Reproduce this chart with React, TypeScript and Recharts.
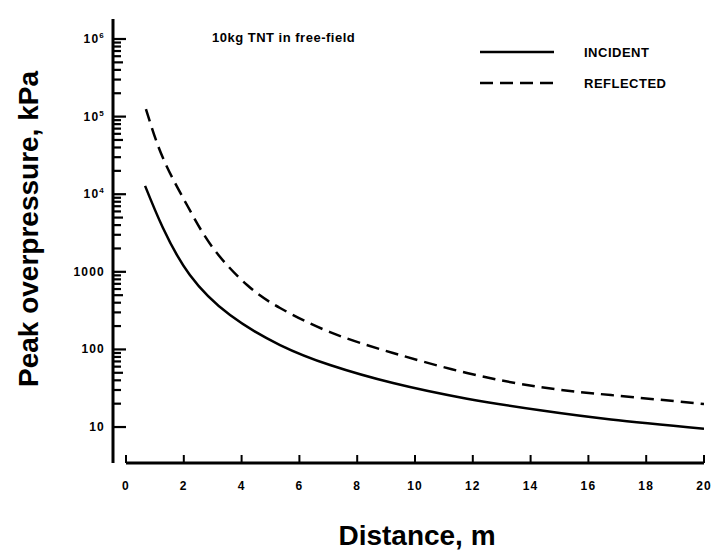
import React from "react";
import { LineChart, Line, XAxis, YAxis, Legend, ReferenceLine } from "recharts";

const FONT = '"Liberation Sans", Arial, Helvetica, sans-serif';

// curves: distance (m) -> peak overpressure (kPa)
const incidentDistance = [0.66, 1.28, 2.21, 3.6, 5.33, 7.06, 9.24, 11.8, 14.33, 16.78, 20];
const incidentPressure = [12800, 3660, 910, 277, 114, 63, 36.9, 23.2, 16.4, 12.5, 9.5];

const reflectedDistance = [0.69, 1.28, 2.11, 3.01, 4.19, 5.33, 7.06, 9.24, 11.8, 14.33, 16.78, 20];
const reflectedPressure = [125000, 29200, 7260, 2030, 676, 342, 167, 90, 49.7, 32.7, 25.8, 19.8];

const distanceTicks = [0, 2, 4, 6, 8, 10, 12, 14, 16, 18, 20];
const pressureMajorTicks = [10, 100, 1000, 1e4, 1e5, 1e6];
const pressureMajorLabels = [["10"], ["100"], ["1000"], ["10", "4"], ["10", "5"], ["10", "6"]];
const pressureMinorSteps = [2, 3, 4, 5, 6, 7, 8, 9];

const Y_MIN = 3.44;
const Y_MAX = 1.81e6;
const Y_AXIS_X = 113;

const incidentData = incidentDistance.map((x, i) => ({ x, p: incidentPressure[i] }));
const reflectedData = reflectedDistance.map((x, i) => ({ x, p: reflectedPressure[i] }));

const pressureTicks: number[] = [];
pressureMajorTicks.forEach((major, i) => {
  pressureTicks.push(major);
  if (i < pressureMajorTicks.length - 1) {
    pressureMinorSteps.forEach((m) => pressureTicks.push(m * major));
  }
});

const YTick = (props: any) => {
  const { y, payload } = props;
  const v = payload.value as number;
  const idx = pressureMajorTicks.indexOf(v);
  const mant = Math.round(v / Math.pow(10, Math.floor(Math.log10(v) + 1e-9)));
  const len = idx >= 0 ? 13 : mant === 5 ? 10 : 8;
  const label = idx >= 0 ? pressureMajorLabels[idx] : null;
  return (
    <g>
      <rect x={Y_AXIS_X} y={y - 1.1} width={len} height={2.2} fill="#000" stroke="none" />
      {label && (
        <text
          x={Y_AXIS_X - 8}
          y={y + 4}
          textAnchor="end"
          fontFamily={FONT}
          fontWeight="bold"
          fontSize={12}
          letterSpacing={1.2}
          fill="#000"
        >
          {label[0]}
          {label[1] && (
            <tspan dy={-5} fontSize={8}>
              {label[1]}
            </tspan>
          )}
        </text>
      )}
    </g>
  );
};

const XTick = (props: any) => {
  const { x, y, payload } = props;
  return (
    <g>
      <line x1={x} y1={y} x2={x} y2={y - 8} stroke="#000" strokeWidth={2} />
      <text
        x={x}
        y={y + 27}
        textAnchor="middle"
        fontFamily={FONT}
        fontWeight="bold"
        fontSize={12}
        letterSpacing={1.2}
        fill="#000"
      >
        {payload.value}
      </text>
    </g>
  );
};

const LegendBox = () => (
  <svg width={230} height={60}>
    <line x1={2} y1={12} x2={76} y2={12} stroke="#000" strokeWidth={2.5} />
    <text x={106} y={16.5} fontFamily={FONT} fontWeight="bold" fontSize={13} letterSpacing={0.5}>
      INCIDENT
    </text>
    <line x1={2} y1={43} x2={76} y2={43} stroke="#000" strokeWidth={2.5} strokeDasharray="13 7" />
    <text x={106} y={47.5} fontFamily={FONT} fontWeight="bold" fontSize={13} letterSpacing={0.5}>
      REFLECTED
    </text>
  </svg>
);

export default function App() {
  return (
    <div style={{ position: "absolute", left: 0, top: 0, width: 711, height: 553, background: "#fff" }}>
      <div
        style={{
          position: "absolute",
          left: 212,
          top: 30,
          fontFamily: FONT,
          fontWeight: "bold",
          fontSize: 13,
          letterSpacing: 0.5,
          lineHeight: "16px",
          zIndex: 2,
        }}
      >
        10kg TNT in free-field
      </div>
      <LineChart width={711} height={553} margin={{ top: 19, right: 7, bottom: 0, left: 0 }}>
        <XAxis
          dataKey="x"
          type="number"
          domain={[-0.45, 20]}
          ticks={distanceTicks}
          interval={0}
          allowDataOverflow
          axisLine={false}
          tickLine={false}
          tickSize={0}
          tickMargin={0}
          height={90}
          tick={<XTick />}
          label={{
            content: () => (
              <text
                x={417}
                y={545}
                textAnchor="middle"
                fontFamily={FONT}
                fontWeight="bold"
                fontSize={28}
                fill="#000"
              >
                Distance, m
              </text>
            ),
          }}
        />
        <YAxis
          type="number"
          scale="log"
          domain={[Y_MIN, Y_MAX]}
          allowDataOverflow
          ticks={pressureTicks}
          interval={0}
          width={Y_AXIS_X}
          axisLine={{ stroke: "#000", strokeWidth: 3 }}
          tickLine={false}
          tickSize={0}
          tickMargin={0}
          tick={<YTick />}
          label={{
            content: () => (
              <text
                x={38}
                y={229}
                transform="rotate(-90, 38, 229)"
                textAnchor="middle"
                fontFamily={FONT}
                fontWeight="bold"
                fontSize={28}
                fill="#000"
              >
                Peak overpressure, kPa
              </text>
            ),
          }}
        />
        <ReferenceLine
          segment={[
            { x: 0, y: Y_MIN },
            { x: 20, y: Y_MIN },
          ]}
          stroke="#000"
          strokeWidth={3}
          ifOverflow="visible"
        />
        <Line
          data={incidentData}
          dataKey="p"
          name="INCIDENT"
          type="natural"
          stroke="#000"
          strokeWidth={2.5}
          dot={false}
          isAnimationActive={false}
        />
        <Line
          data={reflectedData}
          dataKey="p"
          name="REFLECTED"
          type="natural"
          stroke="#000"
          strokeWidth={2.5}
          strokeDasharray="13 7"
          dot={false}
          isAnimationActive={false}
        />
        <Legend
          layout="vertical"
          align="center"
          verticalAlign="middle"
          wrapperStyle={{ left: 478, top: 40, width: 230, height: 60 }}
          content={() => <LegendBox />}
        />
      </LineChart>
    </div>
  );
}
